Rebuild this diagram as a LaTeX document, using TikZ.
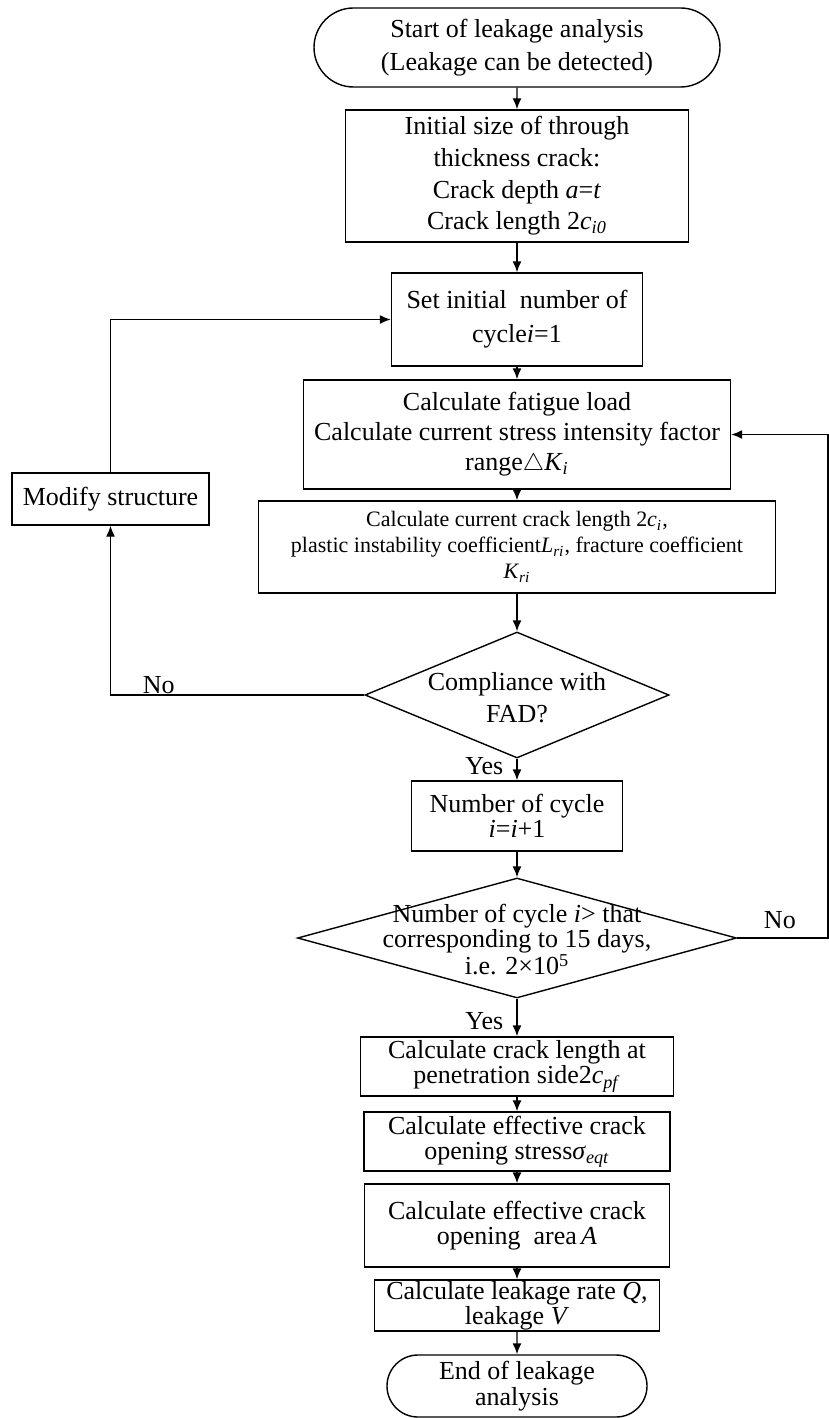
\documentclass[tikz,border=0pt]{standalone}
\usepackage{fontspec}
\setmainfont{Liberation Serif}
\usetikzlibrary{shapes.geometric,shapes.misc,arrows.meta}
\newcommand{\idx}[1]{\textsubscript{\textit{#1}}}
\newcommand{\dectext}[1]{\makebox[0pt]{\raisebox{-5.5pt}[0pt][0pt]{\begin{tabular}{@{}c@{}}#1\end{tabular}}}}
\tikzset{
    box/.style={draw, line width=0.7pt, align=center, inner sep=0pt,
        font=\fontsize{13}{12.5}\selectfont},
    proc/.style={box, rectangle},
    term/.style={box, rounded rectangle},
    decide/.style={box, diamond},
    tag/.style={inner sep=0.5pt, font=\fontsize{13}{12.5}\selectfont},
    flow/.style={->, line width=0.7pt},
    >={Latex[length=5.5pt,width=4.5pt]},
}
\begin{document}
\begin{tikzpicture}[x=0.5pt, y=-0.5pt]
    \useasboundingbox (0,0) rectangle (829,1418);
    % main column, centres in pixels of the page
    \node[term, minimum width=203pt, minimum height=39.5pt, font=\fontsize{13}{16.5}\selectfont]
        (start) at (517,47.5) {Start of leakage analysis\\(Leakage can be detected)};
    \node[proc, minimum width=171.5pt, minimum height=66pt, font=\fontsize{13}{15.8}\selectfont]
        (size) at (517,176) {Initial size of through\\thickness crack:\\Crack depth \textit{a}=\textit{t}\\Crack length 2\textit{c}\idx{i0}};
    \node[proc, minimum width=125.5pt, minimum height=46.5pt, font=\fontsize{13}{17}\selectfont]
        (init) at (517,319.5) {Set initial \ number of\\cycle\textit{i}=1};
    \node[proc, minimum width=213.5pt, minimum height=54.5pt, font=\fontsize{13}{15}\selectfont]
        (load) at (517,434.5) {Calculate fatigue load\\Calculate current stress intensity factor\\range$\triangle$\textit{K}\idx{i}};
    \node[proc, minimum width=258.5pt, minimum height=46pt, font=\fontsize{11}{13}\selectfont]
        (crack) at (517,547) {Calculate current crack length 2\textit{c}\idx{i},\\plastic instability coefficient\textit{L}\idx{ri}, fracture coefficient\\\textit{K}\idx{ri}};
    \node[decide, minimum width=152pt, minimum height=63pt, font=\fontsize{13}{16}\selectfont]
        (fad) at (517,695) {\dectext{Compliance with\\FAD?}};
    \node[proc, minimum width=105.5pt, minimum height=35pt]
        (count) at (517,816) {Number of cycle\\\textit{i}=\textit{i}+1};
    \node[decide, minimum width=219.5pt, minimum height=60pt, font=\fontsize{13}{11.5}\selectfont]
        (check) at (517,938) {\dectext{Number of cycle \textit{i}> that\\corresponding to 15 days,\\i.e. 2×10\textsuperscript{5}}};
    \node[proc, minimum width=156.5pt, minimum height=29.5pt]
        (pen) at (517,1066.5) {Calculate crack length at\\penetration side2\textit{c}\idx{pf}};
    \node[proc, minimum width=153pt, minimum height=29.5pt]
        (stress) at (517,1141.5) {Calculate effective crack\\opening stress\textit{σ}\idx{eqt}};
    \node[proc, minimum width=152.5pt, minimum height=41.5pt]
        (area) at (517,1225.5) {Calculate effective crack\\opening \ area\,\textit{A}};
    \node[proc, minimum width=142.5pt, minimum height=25.5pt]
        (rate) at (517,1305.5) {Calculate leakage rate \textit{Q},\\leakage \textit{V}};
    \node[term, minimum width=130pt, minimum height=31pt, font=\fontsize{13}{11}\selectfont]
        (finish) at (517,1386) {End of leakage\\analysis};
    % side box
    \node[proc, minimum width=98.5pt, minimum height=26pt]
        (modify) at (110.5,499) {Modify structure};
    \coordinate (edge) at (828,0);

    \draw[flow] (start) -- (size);
    \draw[flow] (size) -- (init);
    \draw[flow] (init) -- (load);
    \draw[flow] (load) -- (crack);
    \draw[flow] (crack) -- (fad);
    \draw[flow] (fad) -- node[tag, left, pos=0.35, xshift=-6pt] (yes1) {Yes} (count);
    \draw[flow] (count) -- (check);
    \draw[flow] (check) -- node[tag, left, pos=0.6, xshift=-6pt] (yes2) {Yes} (pen);
    \draw[flow] (pen) -- (stress);
    \draw[flow] (stress) -- (area);
    \draw[flow] (area) -- (rate);
    \draw[flow] (rate) -- (finish);
    % loops
    \draw[flow] (fad.west) -- node[tag, above, pos=0.81] (no1) {No} (fad.west -| modify.south) -- (modify.south);
    \draw[flow] (modify.north) |- (init.west);
    \draw[flow] (check.east) -- node[tag, above, pos=0.47, yshift=4pt] (no2) {No} (check.east -| edge) |- (load.east);
\end{tikzpicture}
\end{document}
